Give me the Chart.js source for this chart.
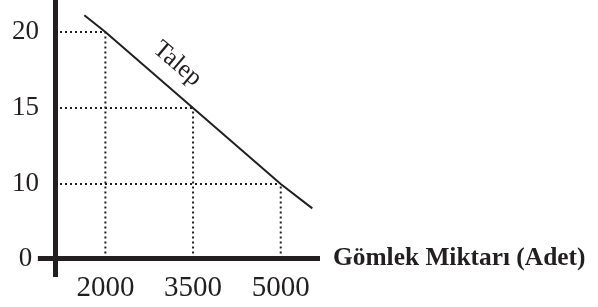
<!DOCTYPE html>
<html>
<head>
<meta charset="utf-8">
<script src="https://cdn.jsdelivr.net/npm/chart.js@4.4.1/dist/chart.umd.min.js"></script>
<style>
  html, body { margin: 0; padding: 0; background: #fff; }
  #wrap { width: 598px; height: 307px; position: relative; }
</style>
</head>
<body>
<div id="wrap"><canvas id="chart"></canvas></div>
<script>
// Demand schedule
const quantities = [2000, 3500, 5000];
const prices = [20, 15, 10];

// Ends of the drawn demand line (it runs a bit past the marked points)
const demandLineQty = [1640, 2000, 3500, 5000, 5540];
const demandLinePrice = [21.1, 20, 15, 10, 8.4];

// Tick labels
const xTicks = [2000, 3500, 5000];
const yTicks = [0, 10, 15, 20];

// The price axis is broken: "0" sits where the value 5.1 would be
const axisBreak = 5.1;

const curveLabel = 'Talep';
const curveLabelAt = { x: 3230, y: 17.9 };
const xTitle = 'Gömlek Miktarı (Adet)';

const ink = '#231f20';
const serif = "'Liberation Serif', 'Times New Roman', serif";

// Axis ranges
const xMin = 1138, xMax = 5672;
const yMin = 3.95, yMax = 21.97;
const xAxisStart = 845;

Chart.defaults.font.family = serif;
Chart.defaults.color = ink;

const datasets = [];

// demand line
datasets.push({
    data: demandLineQty.map((q, i) => ({ x: q, y: demandLinePrice[i] })),
    borderColor: ink,
    borderWidth: 2,
    pointRadius: 0,
    tension: 0
});

// dotted guides to each point
quantities.forEach((q, i) => {
    datasets.push({
        data: [{ x: xMin, y: prices[i] }, { x: q, y: prices[i] }],
        borderColor: ink, borderWidth: 2, borderDash: [2, 3],
        pointRadius: 0
    });
    datasets.push({
        data: [{ x: q, y: axisBreak }, { x: q, y: prices[i] }],
        borderColor: ink, borderWidth: 2, borderDash: [2, 3],
        pointRadius: 0
    });
});

// thick quantity axis drawn at the broken origin
datasets.push({
    data: [{ x: xAxisStart, y: axisBreak }, { x: xMax, y: axisBreak }],
    borderColor: ink,
    borderWidth: 5,
    pointRadius: 0,
    clip: false
});

const textPlugin = {
    id: 'texts',
    afterDatasetsDraw(chart) {
        const { ctx, chartArea, scales } = chart;
        ctx.save();
        ctx.fillStyle = ink;

        // axis title right of the quantity axis
        ctx.font = 'bold 25.4px ' + serif;
        ctx.textAlign = 'left';
        ctx.textBaseline = 'middle';
        ctx.fillText(xTitle, chartArea.right + 13, scales.y.getPixelForValue(axisBreak));

        // curve label along the demand line
        const x0 = scales.x.getPixelForValue(demandLineQty[0]);
        const y0 = scales.y.getPixelForValue(demandLinePrice[0]);
        const n = demandLineQty.length - 1;
        const x1 = scales.x.getPixelForValue(demandLineQty[n]);
        const y1 = scales.y.getPixelForValue(demandLinePrice[n]);
        const angle = Math.atan2(y1 - y0, x1 - x0);
        ctx.translate(scales.x.getPixelForValue(curveLabelAt.x), scales.y.getPixelForValue(curveLabelAt.y));
        ctx.rotate(angle);
        ctx.font = '25px ' + serif;
        ctx.textAlign = 'center';
        ctx.fillText(curveLabel, 0, 0);
        ctx.restore();
    }
};

new Chart(document.getElementById('chart'), {
    type: 'line',
    data: { datasets: datasets },
    plugins: [textPlugin],
    options: {
        responsive: true,
        maintainAspectRatio: false,
        devicePixelRatio: 1,
        animation: false,
        layout: { padding: { top: 2, right: 278, left: 0, bottom: 0 } },
        plugins: {
            legend: { display: false },
            tooltip: { enabled: false }
        },
        scales: {
            x: {
                type: 'linear',
                min: xMin,
                max: xMax,
                afterBuildTicks(scale) {
                    scale.ticks = xTicks.map(v => ({ value: v }));
                },
                afterFit(scale) {
                    scale.height = 31;
                    scale.paddingLeft = 0;
                    scale.paddingRight = 0;
                },
                grid: { display: false, drawTicks: false },
                border: { display: false },
                ticks: {
                    color: ink,
                    padding: -5,
                    maxRotation: 0,
                    font: { size: 29, family: serif },
                    callback: v => String(v)
                }
            },
            y: {
                type: 'linear',
                min: yMin,
                max: yMax,
                afterBuildTicks(scale) {
                    scale.ticks = yTicks.map(v => ({ value: v === 0 ? axisBreak : v }));
                },
                afterFit(scale) {
                    scale.width = 55;
                    scale.paddingTop = 0;
                    scale.paddingBottom = 0;
                },
                grid: { display: false, drawTicks: false },
                border: { display: true, width: 5, color: ink },
                ticks: {
                    color: ink,
                    padding: 16,
                    font: { size: 27, family: serif },
                    callback: v => {
                        const i = yTicks.findIndex(t => (t === 0 ? axisBreak : t) === v);
                        return yTicks[i] === 0 ? '0 ' : String(yTicks[i]);
                    }
                }
            }
        }
    }
});
</script>
</body>
</html>
